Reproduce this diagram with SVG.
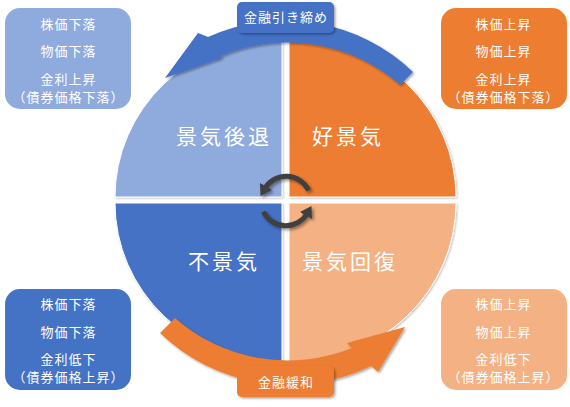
<svg xmlns="http://www.w3.org/2000/svg" width="570" height="407" viewBox="0 0 570 407">
<defs>
<filter id="sh" x="-20%" y="-20%" width="140%" height="140%"><feDropShadow dx="1.5" dy="1.5" stdDeviation="1.2" flood-color="#000" flood-opacity="0.35"/></filter>
<filter id="shq" x="-10%" y="-10%" width="120%" height="120%"><feDropShadow dx="1" dy="1" stdDeviation="1" flood-color="#000" flood-opacity="0.25"/></filter>
<filter id="shc" x="-40%" y="-40%" width="180%" height="180%"><feDropShadow dx="2" dy="2" stdDeviation="1.5" flood-color="#000" flood-opacity="0.4"/></filter>
<marker id="ah" markerUnits="userSpaceOnUse" markerWidth="12" markerHeight="14" refX="3" refY="7" orient="auto"><path d="M0,0 L11,7 L0,14 Z" fill="#404040"/></marker>
</defs>
<style>
text{font-family:"Noto Sans CJK JP","Noto Sans",sans-serif;fill:#fff;text-anchor:middle}
.s{font-size:13px;letter-spacing:1px}
.q{font-size:21px;letter-spacing:3px}
.w{stroke:#fff;stroke-width:1}
</style>
<g id="quadrants">
<g id="q-recession"><path class="w" filter="url(#shq)" d="M282,197 L115,197 A167 160 0 0 1 282,37 Z" fill="#8FAADC"/><text class="q" x="224" y="144">景気後退</text></g>
<g id="q-boom"><path class="w" filter="url(#shq)" d="M289,197 L289,37 A167 160 0 0 1 456,197 Z" fill="#ED7D31"/><text class="q" x="348" y="144">好景気</text></g>
<g id="q-depression"><path class="w" filter="url(#shq)" d="M282,203 L282,363 A167 160 0 0 1 115,203 Z" fill="#4472C4"/><text class="q" x="224" y="269">不景気</text></g>
<g id="q-recovery"><path class="w" filter="url(#shq)" d="M289,203 L456,203 A167 160 0 0 1 289,363 Z" fill="#F4B183"/><text class="q" x="350" y="269">景気回復</text></g>
</g>
<g id="connectors">
<path id="arc-tightening" filter="url(#sh)" fill="#4472C4" d="M413,72 A180 172 0 0 0 208,37 L198,33 L165,78 L222,58 L221,56 A166 160 0 0 1 400,85 Z"/>
<path id="arc-easing" filter="url(#sh)" fill="#ED7D31" d="M160,333 L175,318 A166 160 0 0 0 352,348 L347,343 L405,327 L378,372 L371,366 A182 176 0 0 1 160,333 Z"/>
<g fill="none" stroke="#404040" stroke-width="5" filter="url(#shc)">
<path d="M308.7,190.4 A25 25 0 0 0 264.5,189" marker-end="url(#ah)"/>
<path d="M263.3,211.6 A25 25 0 0 0 307.5,213" marker-end="url(#ah)"/>
</g>
</g>
<g id="label-tightening"><rect x="237" y="2" width="97" height="31" rx="5" fill="#4472C4" filter="url(#sh)"/><text class="s" x="286" y="22">金融引き締め</text></g>
<g id="label-easing"><rect x="237" y="366" width="97" height="31" rx="5" fill="#ED7D31" filter="url(#sh)"/><text class="s" x="286" y="387">金融緩和</text></g>
<g id="box-recession"><rect x="5" y="8" width="126" height="101" rx="15" fill="#8FAADC"/>
<text class="s" x="68.5" y="28.5">株価下落</text><text class="s" x="68.5" y="55.5">物価下落</text><text class="s" x="68.5" y="84">金利上昇</text><text class="s" x="68.5" y="102">（債券価格下落）</text></g>
<g id="box-boom"><rect x="441" y="8" width="126" height="101" rx="15" fill="#ED7D31"/>
<text class="s" x="503.5" y="28.5">株価上昇</text><text class="s" x="503.5" y="55.5">物価上昇</text><text class="s" x="503.5" y="84">金利上昇</text><text class="s" x="503.5" y="102">（債券価格下落）</text></g>
<g id="box-depression"><rect x="5" y="289" width="126" height="101" rx="15" fill="#4472C4"/>
<text class="s" x="68.5" y="308.5">株価下落</text><text class="s" x="68.5" y="336.5">物価下落</text><text class="s" x="68.5" y="363.5">金利低下</text><text class="s" x="68.5" y="381.5">（債券価格上昇）</text></g>
<g id="box-recovery"><rect x="441" y="289" width="126" height="101" rx="15" fill="#F4B183"/>
<text class="s" x="503.5" y="308.5">株価上昇</text><text class="s" x="503.5" y="336.5">物価上昇</text><text class="s" x="503.5" y="363.5">金利低下</text><text class="s" x="503.5" y="381.5">（債券価格上昇）</text></g>
</svg>
